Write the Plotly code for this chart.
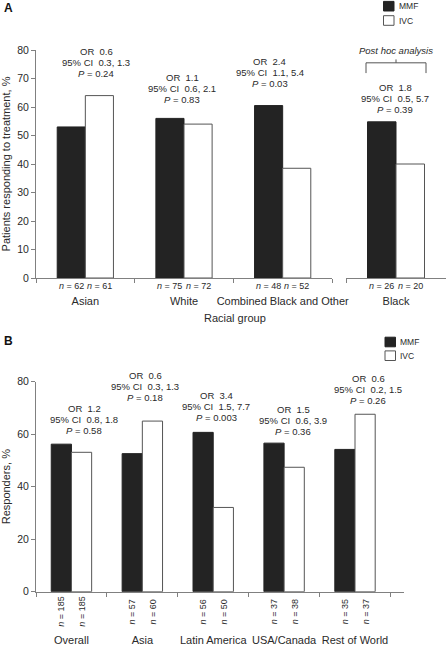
import plotly.graph_objects as go

# ---------------- Data ----------------
# Panel A: racial groups
race_groups = ["Asian", "White", "Combined Black and Other", "Black"]
race_mmf = [53.0, 56.0, 60.5, 54.8]
race_ivc = [64.0, 54.0, 38.5, 40.0]
race_n_mmf = [62, 75, 48, 26]
race_n_ivc = [61, 72, 52, 20]
race_or = ["0.6", "1.1", "2.4", "1.8"]
race_ci = ["0.3, 1.3", "0.6, 2.1", "1.1, 5.4", "0.5, 5.7"]
race_p = ["0.24", "0.83", "0.03", "0.39"]

# Panel B: geographic regions
regions = ["Overall", "Asia", "Latin America", "USA/Canada", "Rest of World"]
region_mmf = [56.2, 52.6, 60.7, 56.6, 54.2]
region_ivc = [53.1, 65.0, 32.1, 47.4, 67.6]
region_n_mmf = [185, 57, 56, 37, 35]
region_n_ivc = [185, 60, 50, 38, 37]
region_or = ["1.2", "0.6", "3.4", "1.5", "0.6"]
region_ci = ["0.8, 1.8", "0.3, 1.3", "1.5, 7.7", "0.6, 3.9", "0.2, 1.5"]
region_p = ["0.58", "0.18", "0.003", "0.36", "0.26"]

series_names = ["MMF", "IVC"]

# ---------------- Style ----------------
W, H = 446, 645
FONT = "Liberation Sans, Arial, sans-serif"
TXT = "#2a2a2a"
AX = "#808080"
MMF_COL = "#232323"
IVC_EDGE = "#555555"
BARGAP = 0.43

# layout geometry (pixels)
A_left, A_right, A_gap_start, A_right2 = 36, 332, 346, 446
A_top, A_bottom = 50, 278
B_left, B_right = 36, 404
B_top, B_bottom = 381.7, 591.7

fig = go.Figure()

def bar_pair(x, mmf, ivc, xaxis, yaxis):
    fig.add_trace(go.Bar(x=x, y=mmf, name=series_names[0], xaxis=xaxis, yaxis=yaxis,
                         marker=dict(color=MMF_COL, line=dict(color=MMF_COL, width=1)),
                         showlegend=False))
    fig.add_trace(go.Bar(x=x, y=ivc, name=series_names[1], xaxis=xaxis, yaxis=yaxis,
                         marker=dict(color="white", line=dict(color=IVC_EDGE, width=1)),
                         showlegend=False))

bar_pair(race_groups[:3], race_mmf[:3], race_ivc[:3], "x", "y")
bar_pair(race_groups[3:], race_mmf[3:], race_ivc[3:], "x2", "y")
bar_pair(regions, region_mmf, region_ivc, "x3", "y2")

def xax(d0, d1, anchor, standoff):
    return dict(domain=[d0 / W, d1 / W], anchor=anchor, type="category",
                showline=True, linecolor=AX, linewidth=1, ticks="outside",
                tickson="boundaries", ticklen=4, tickcolor=AX, showgrid=False,
                zeroline=False, tickfont=dict(size=11, color=TXT, family=FONT),
                tickangle=0, automargin=False,
                ticklabelstandoff=standoff, fixedrange=True)

def yax(t, b, anchor, dtick, title):
    return dict(domain=[(H - b) / H, (H - t) / H], anchor=anchor, range=[0, 80],
                dtick=dtick, showline=True, linecolor=AX, linewidth=1,
                ticks="outside", ticklen=4, tickcolor=AX, showgrid=False,
                zeroline=False, tickfont=dict(size=10.5, color=TXT, family=FONT),
                automargin=False, fixedrange=True,
                title=dict(text=title, font=dict(size=11, color=TXT, family=FONT),
                           standoff=6))

fig.update_layout(
    width=W, height=H, margin=dict(l=0, r=0, t=0, b=0, autoexpand=False),
    paper_bgcolor="white", plot_bgcolor="white",
    font=dict(family=FONT, color=TXT, size=10),
    barmode="group", bargap=BARGAP, bargroupgap=0, showlegend=False,
    hovermode=False,
    xaxis=xax(A_left, A_right, "y", 13),
    xaxis2=xax(A_gap_start, A_right2, "y", 13),
    xaxis3=xax(B_left, B_right, "y2", 38),
    yaxis=yax(A_top, A_bottom, "x", 10, "Patients responding to treatment, %"),
    yaxis2=yax(B_top, B_bottom, "x3", 20, "Responders, %"),
)

# ---------------- Legends (key boxes + labels) ----------------
def legend_block(x0, y_centers, text_x):
    for name, yc in zip(series_names, y_centers):
        fill = MMF_COL if name == "MMF" else "white"
        edge = MMF_COL if name == "MMF" else IVC_EDGE
        fig.add_shape(type="rect", xref="paper", yref="paper",
                      x0=x0 / W, x1=(x0 + 10.5) / W,
                      y0=(H - yc - 4.8) / H, y1=(H - yc + 4.8) / H,
                      fillcolor=fill, line=dict(color=edge, width=1))
        fig.add_annotation(x=text_x / W, y=(H - yc) / H, xref="paper", yref="paper",
                           text=name, showarrow=False, xanchor="left", yanchor="middle",
                           font=dict(size=8.5, color=TXT, family=FONT))

legend_block(383.5, [6.2, 20.5], 396.5)
legend_block(385, [342, 355.7], 397.5)

LINE = 11
ann_font = dict(size=9.5, color=TXT, family=FONT)

def or_block(xref, yref, cat, ymax, o, c, p, xshift, gap):
    lines = [f"OR  {o}", f"95% CI  {c}", f"<i>P</i> = {p}"]
    for i, line in enumerate(reversed(lines)):
        fig.add_annotation(x=cat, y=ymax, xref=xref, yref=yref, text=line,
                           showarrow=False, xshift=xshift, yshift=gap + i * LINE,
                           xanchor="center", yanchor="middle", font=ann_font)

# Panel A OR blocks
a_xshift = [11, -2, -13, -1]
a_gap = [22, 19, 22, 12]
for i, g in enumerate(race_groups):
    xr = "x" if i < 3 else "x2"
    or_block(xr, "y", g, max(race_mmf[i], race_ivc[i]), race_or[i], race_ci[i],
             race_p[i], a_xshift[i], a_gap[i])

# Panel B OR blocks
b_xshift = [13, 3, 3, 9, 13]
b_gap = [14, 24, 15, 12, 14]
for i, g in enumerate(regions):
    or_block("x3", "y2", g, max(region_mmf[i], region_ivc[i]), region_or[i],
             region_ci[i], region_p[i], b_xshift[i], b_gap[i])

# n labels
a_cat_px = (A_right - A_left) / 3
a_off = (1 - BARGAP) * a_cat_px / 4
n_font = dict(size=9, color=TXT, family=FONT)
for i, g in enumerate(race_groups):
    xr = "x" if i < 3 else "x2"
    for n, s in ((race_n_mmf[i], -1), (race_n_ivc[i], 1)):
        fig.add_annotation(x=g, y=0, xref=xr, yref="y", text=f"<i>n</i> = {n}",
                           showarrow=False, xshift=s * a_off, yshift=-8,
                           xanchor="center", yanchor="middle", font=n_font)

b_cat_px = (B_right - B_left) / len(regions)
b_off = (1 - BARGAP) * b_cat_px / 4
for i, g in enumerate(regions):
    for n, s in ((region_n_mmf[i], -1), (region_n_ivc[i], 1)):
        fig.add_annotation(x=g, y=0, xref="x3", yref="y2", text=f"<i>n</i> = {n}",
                           showarrow=False, xshift=s * b_off, yshift=-20,
                           textangle=-90, xanchor="center", yanchor="middle",
                           font=n_font)

# x-axis title panel A
fig.add_annotation(x=235 / W, y=(H - 318) / H, xref="paper", yref="paper",
                   text="Racial group", showarrow=False, xanchor="center",
                   yanchor="middle", font=dict(size=11, color=TXT, family=FONT))

# Panel letters
for letter, yy in (("A", 8), ("B", 341)):
    fig.add_annotation(x=8 / W, y=(H - yy) / H, xref="paper", yref="paper",
                       text=f"<b>{letter}</b>", showarrow=False, xanchor="center",
                       yanchor="middle", font=dict(size=12, color="#111", family=FONT))

# Post hoc analysis bracket
fig.add_annotation(x="Black", y=80, xref="x2", yref="y", text="<i>Post hoc analysis</i>",
                   showarrow=False, xanchor="center", yanchor="middle", font=ann_font)
fig.add_shape(type="path", xref="x2", yref="y",
              path="M -0.3,71.9 L -0.3,75.5 L 0.3,75.5 L 0.3,71.9 M 0,75.5 L 0,76.7",
              line=dict(color="#555", width=1))

fig.write_html("out.html", config={"displayModeBar": False},
               post_script="document.body.style.margin='0';")
